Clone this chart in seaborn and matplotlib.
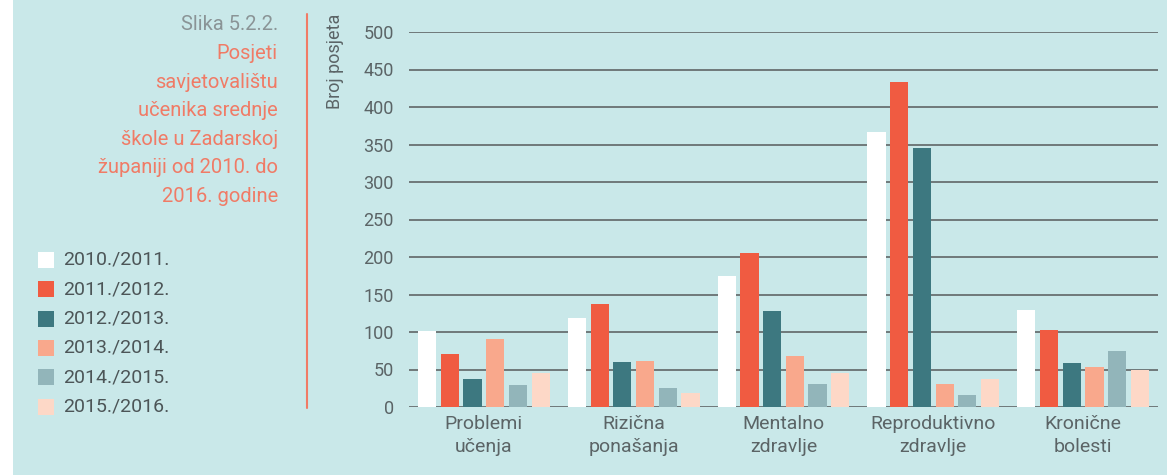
import matplotlib
matplotlib.use("Agg")
import matplotlib.pyplot as plt
import pandas as pd
import seaborn as sns
from matplotlib.patches import Rectangle
from matplotlib.lines import Line2D

# --- data ---
categories = ["Problemi\nučenja", "Rizična\nponašanja", "Mentalno\nzdravlje",
              "Reproduktivno\nzdravlje", "Kronične\nbolesti"]
years = ["2010./2011.", "2011./2012.", "2012./2013.",
         "2013./2014.", "2014./2015.", "2015./2016."]
v_2010 = [102, 119, 175, 367, 130]
v_2011 = [71, 138, 206, 433, 103]
v_2012 = [37, 60, 128, 346, 59]
v_2013 = [91, 62, 68, 31, 54]
v_2014 = [30, 26, 31, 16, 75]
v_2015 = [45, 19, 46, 37, 49]
yticks = list(range(0, 550, 50))

colors = ["#FFFFFF", "#F05B41", "#3D7880", "#F9A88C", "#92B5BA", "#FDD8C7"]
BG = "#C9E8E9"
TXT = "#5B6466"
ACCENT = "#F07B66"

rows = []
for yr, vals in zip(years, [v_2010, v_2011, v_2012, v_2013, v_2014, v_2015]):
    for c, v in zip(categories, vals):
        rows.append({"kategorija": c, "godina": yr, "posjeti": v})
df = pd.DataFrame(rows)

sns.set_style("white")
plt.rcParams["font.family"] = ["Roboto", "DejaVu Sans"]

fig = plt.figure(figsize=(11.67, 4.75), dpi=100)
fig.patch.set_facecolor(BG)
# thin white strip on the left edge
fig.patches.append(Rectangle((0, 0), 13 / 1167, 1, transform=fig.transFigure,
                             facecolor="white", edgecolor="none", zorder=0))

ax = fig.add_axes([409 / 1167, 1 - 407 / 475, (1158 - 409) / 1167, 375 / 475])
ax.set_facecolor(BG)

sns.barplot(data=df, x="kategorija", y="posjeti", hue="godina", order=categories,
            hue_order=years, palette=colors, width=0.91, gap=0.2,
            saturation=1, edgecolor="none", legend=False, ax=ax, zorder=3)

ax.set_ylim(0, 500)
ax.set_xlim(-0.5, 4.5)
ax.set_yticks(yticks)
for y in yticks:
    ax.axhline(y, color="#6F7879", lw=1.4, zorder=2)
for s in ax.spines.values():
    s.set_visible(False)
ax.tick_params(axis="both", length=0, colors=TXT)
ax.tick_params(axis="y", labelsize=13, pad=11)
ax.tick_params(axis="x", labelsize=14, pad=6)
for lbl in ax.get_xticklabels():
    lbl.set_linespacing(1.3)
ax.set_xlabel("")
ax.set_ylabel("")

fig.text(335 / 1167, 1 - 14 / 475, "Broj posjeta", rotation=90, ha="center",
         va="top", fontsize=13, color=TXT)

# title block on the left
fig.text(278 / 1167, 1 - 25 / 475, "Slika 5.2.2.", ha="right", va="center",
         fontsize=14.5, color="#8A9496")
title_lines = ["Posjeti", "savjetovalištu", "učenika srednje", "škole u Zadarskoj",
               "županiji od 2010. do", "2016. godine"]
for i, line in enumerate(title_lines):
    fig.text(278 / 1167, 1 - (53.5 + i * 28.6) / 475, line, ha="right",
             va="center", fontsize=14.5, color=ACCENT)

fig.add_artist(Line2D([307 / 1167, 307 / 1167], [1 - 14 / 475, 1 - 408 / 475],
                      transform=fig.transFigure, color=ACCENT, lw=1.5))

# legend
for i, (yr, col) in enumerate(zip(years, colors)):
    yc = 260 + i * 29.3
    fig.patches.append(Rectangle((38 / 1167, 1 - (yc + 8) / 475), 16 / 1167, 16 / 475,
                                 transform=fig.transFigure, facecolor=col,
                                 edgecolor="none"))
    fig.text(63 / 1167, 1 - yc / 475, yr, ha="left", va="center",
             fontsize=14, color="#4C5557")

fig.savefig("out.png", dpi=100, facecolor=BG)
